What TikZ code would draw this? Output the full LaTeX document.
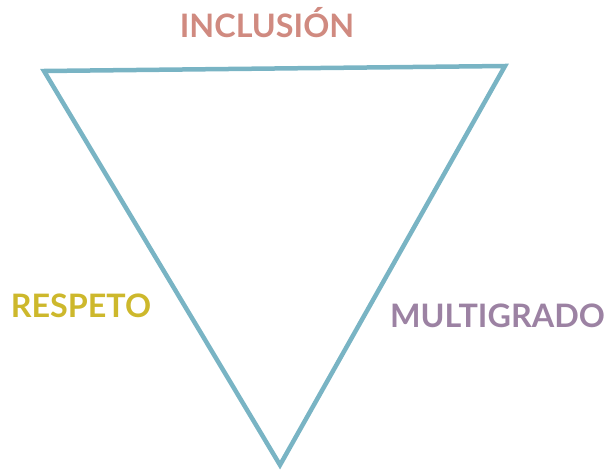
\documentclass[tikz,border=0pt]{standalone}
\usepackage{fontspec}
\setmainfont{Lato}
\definecolor{tri}{HTML}{79B4C4}
\definecolor{salmon}{HTML}{D08A80}
\definecolor{yel}{HTML}{CDB82C}
\definecolor{purp}{HTML}{9C82A3}
\begin{document}
\begin{tikzpicture}[x=1pt,y=-1pt,
  lbl/.style={anchor=base,inner sep=0pt,font=\bfseries\fontsize{32.3}{38}\selectfont}]
\useasboundingbox (0,0) rectangle (610,471);
\coordinate (A) at (44,71);
\coordinate (B) at (505,66);
\coordinate (C) at (280,465);
\draw[tri,line width=4.5pt,line join=miter] (A) -- (B) -- (C) -- cycle;
\node[lbl,text=salmon] (inc) at (267,37) {INCLUSIÓN};
\node[lbl,text=yel] (res) at (81,317) {RESPETO};
\node[lbl,text=purp] (mul) at (497.5,327) {MULTIGRADO};
\end{tikzpicture}
\end{document}
